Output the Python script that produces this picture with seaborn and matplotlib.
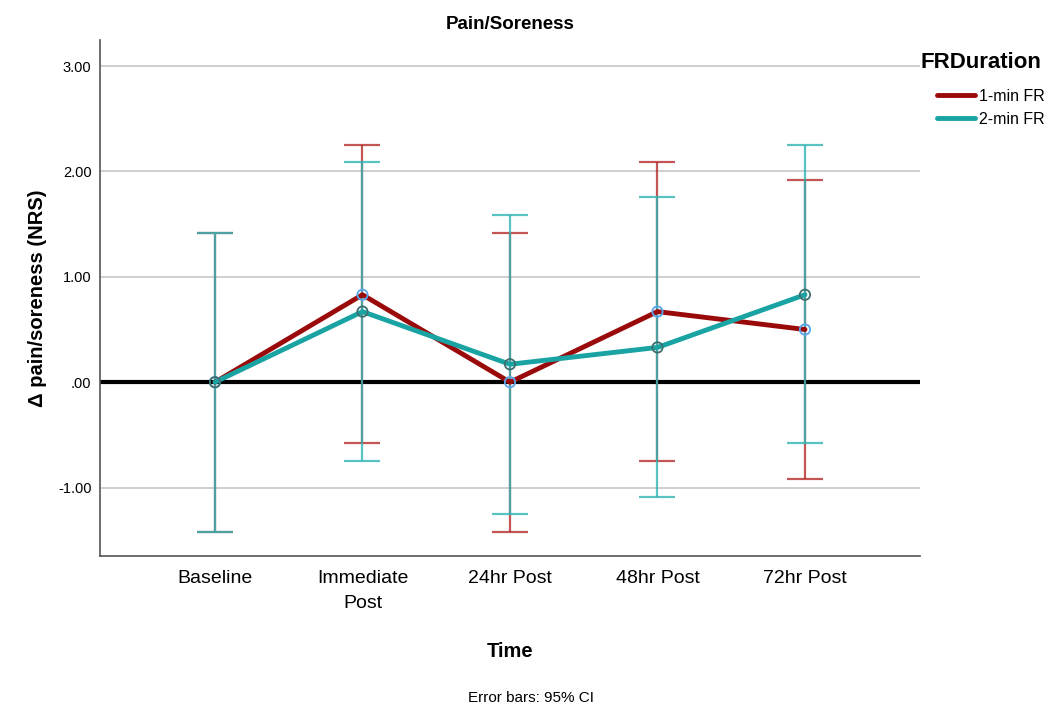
import pandas as pd
import seaborn as sns
import matplotlib.pyplot as plt

# data
times = ['Baseline', 'Immediate\nPost', '24hr Post', '48hr Post', '72hr Post']
groups = ['1-min FR', '2-min FR']
mean_1min = [0.00, 0.83, 0.00, 0.67, 0.50]
lower_1min = [-1.42, -0.58, -1.42, -0.75, -0.92]
upper_1min = [1.42, 2.25, 1.42, 2.09, 1.92]
mean_2min = [0.00, 0.67, 0.17, 0.33, 0.83]
lower_2min = [-1.42, -0.75, -1.25, -1.09, -0.58]
upper_2min = [1.42, 2.09, 1.59, 1.76, 2.25]
y_ticks = [-1, 0, 1, 2, 3]

df = pd.DataFrame({
    'Time': times * 2,
    'Pain': mean_1min + mean_2min,
    'FRDuration': [groups[0]] * 5 + [groups[1]] * 5,
})

sns.set_style('white')
plt.rcParams['font.family'] = ['Liberation Sans', 'DejaVu Sans']
plt.rcParams['text.color'] = 'black'
plt.rcParams['xtick.color'] = 'black'
plt.rcParams['ytick.color'] = 'black'
plt.rcParams['axes.labelcolor'] = 'black'

palette = {'1-min FR': '#9b0a0a', '2-min FR': '#1aa3a3'}
bar_cols = {'1-min FR': '#b52a2a', '2-min FR': '#2fb5b5'}
marker_edge = {'1-min FR': '#5aa5ee', '2-min FR': '#3d6e6e'}

fig = plt.figure(figsize=(10.63, 7.11), dpi=100)
ax = fig.add_axes([0.094, 0.218, 0.7715, 0.726])

# horizontal grid lines
for t in y_ticks:
    if t != 0:
        ax.axhline(t, color='#cccccc', lw=1.3, zorder=0)
ax.axhline(0, color='black', lw=3, zorder=1)

# error bars (95% CI)
xs = range(len(times))
for g, m, lo, hi in [(groups[0], mean_1min, lower_1min, upper_1min),
                     (groups[1], mean_2min, lower_2min, upper_2min)]:
    yerr = [[a - b for a, b in zip(m, lo)], [b - a for a, b in zip(m, hi)]]
    ax.errorbar(list(xs), m, yerr=yerr, fmt='none', ecolor=bar_cols[g],
                elinewidth=1.6, capsize=13, capthick=1.6, alpha=0.8, zorder=2)

sns.lineplot(data=df, x='Time', y='Pain', hue='FRDuration', palette=palette,
             sort=False, lw=3.5, ax=ax, zorder=3, legend=True)

# open circle markers
for g, m in [(groups[0], mean_1min), (groups[1], mean_2min)]:
    ax.scatter(list(xs), m, s=55, facecolors='none', edgecolors=marker_edge[g],
               linewidths=1.3, zorder=4)

ax.set_xlim(-0.78, 4.78)
ax.set_ylim(-1.65, 3.25)
ax.set_yticks(y_ticks)
ax.set_yticklabels(['-1.00', '.00', '1.00', '2.00', '3.00'], fontsize=10.5)
ax.set_xticks(list(xs))
ax.set_xticklabels(times, fontsize=14)
for lab in ax.get_xticklabels():
    lab.set_linespacing(1.6)
ax.tick_params(axis='both', length=0, pad=6)
ax.tick_params(axis='x', pad=10)

for s in ['top', 'right']:
    ax.spines[s].set_visible(False)
for s in ['left', 'bottom']:
    ax.spines[s].set_color('#555555')
    ax.spines[s].set_linewidth(1.2)

ax.set_xlabel('Time', fontsize=14.5, fontweight='bold', labelpad=22)
ax.set_ylabel('\u0394 pain/soreness (NRS)', fontsize=14.5, fontweight='bold', labelpad=8)
ax.set_title('Pain/Soreness', fontsize=13.5, fontweight='bold', pad=8)

leg = ax.legend(loc='upper left', bbox_to_anchor=(937 / 1063, 1 - 89 / 711),
                bbox_transform=fig.transFigure, frameon=False, fontsize=11.5,
                handlelength=2.4, handletextpad=0.2, labelspacing=0.5,
                borderpad=0, borderaxespad=0)
for h in leg.get_lines():
    h.set_linewidth(3.5)
fig.text(920 / 1063, 1 - 62 / 711, 'FRDuration', fontsize=16, fontweight='bold',
         va='center', ha='left')

fig.text(0.5, 0.012, 'Error bars: 95% CI', ha='center', fontsize=11)

plt.savefig('out.png', dpi=100)
